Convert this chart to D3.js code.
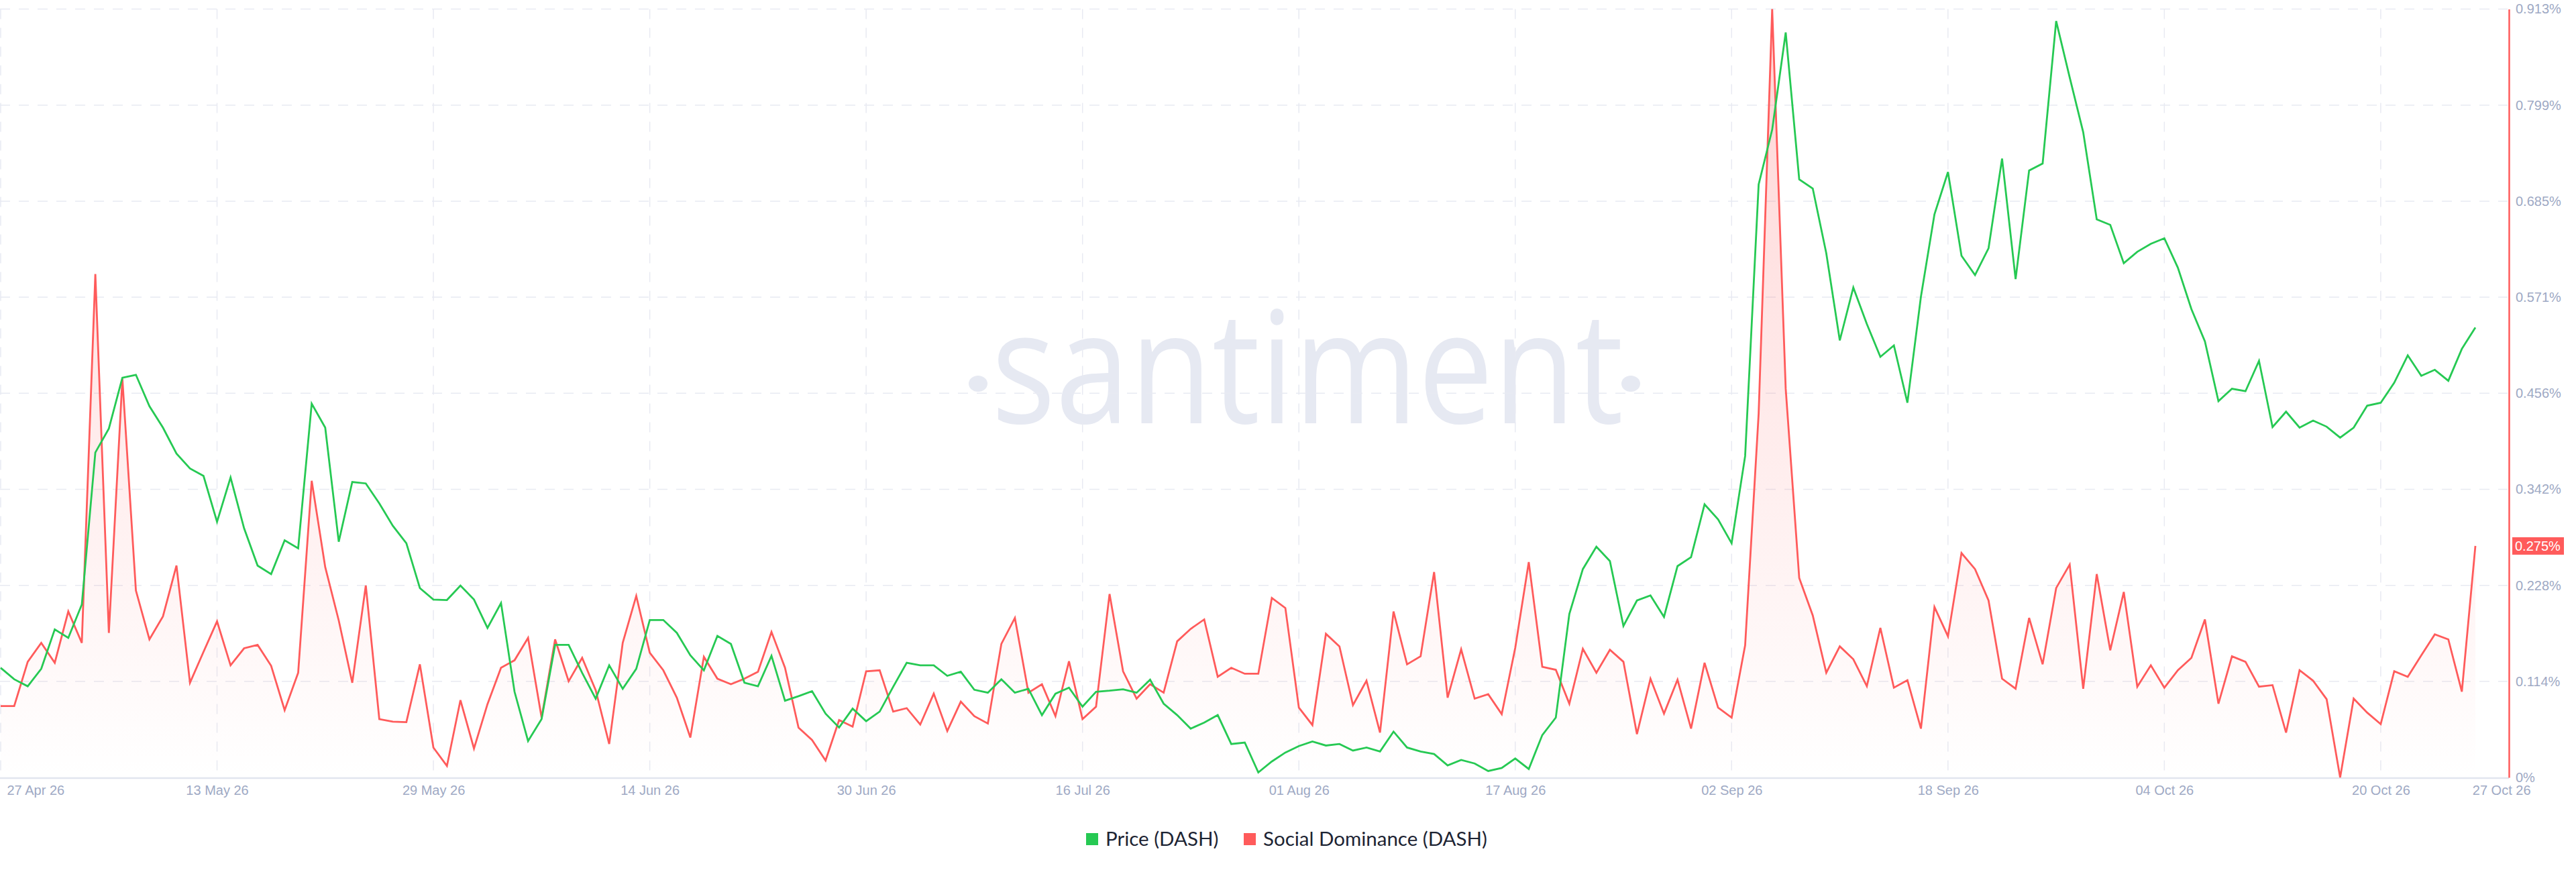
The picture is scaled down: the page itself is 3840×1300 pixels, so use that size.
<!DOCTYPE html>
<html>
<head>
<meta charset="utf-8">
<script src="https://cdn.jsdelivr.net/npm/d3@7"></script>
<style>
  html, body { margin: 0; padding: 0; background: #ffffff; }
  svg { display: block; }
</style>
</head>
<body>
<svg id="chart" width="3840" height="1300"></svg>
<script>
// ---------------- DATA ----------------
const startDate = "2026-04-27";
const endDate = "2026-10-27";

const tickDates = ["2026-04-27","2026-05-13","2026-05-29","2026-06-14","2026-06-30","2026-07-16",
                   "2026-08-01","2026-08-17","2026-09-02","2026-09-18","2026-10-04","2026-10-20","2026-10-27"];
const tickLabels = ["27 Apr 26","13 May 26","29 May 26","14 Jun 26","30 Jun 26","16 Jul 26",
                    "01 Aug 26","17 Aug 26","02 Sep 26","18 Sep 26","04 Oct 26","20 Oct 26","27 Oct 26"];

const yTickLabels = ["0%","0.114%","0.228%","0.342%","0.456%","0.571%","0.685%","0.799%","0.913%"];
const socialMax = 0.9129;

const seriesNames = ["Price (DASH)", "Social Dominance (DASH)"];

// Price (DASH), hidden left scale
const priceDash = [
  31.41, 30.22, 29.49, 31.31, 35.41, 34.53, 38.00, 53.83, 56.32, 61.61,
  61.92, 58.65, 56.42, 53.72, 52.17, 51.39, 46.61, 51.23, 45.94, 42.05,
  41.17, 44.69, 43.86, 58.91, 56.42, 44.54, 50.76, 50.61, 48.53, 46.20,
  44.38, 39.71, 38.52, 38.47, 39.97, 38.52, 35.56, 38.16, 28.92, 23.79,
  26.07, 33.80, 33.80, 30.89, 28.20, 31.67, 29.23, 31.31, 36.39, 36.39,
  35.05, 32.71, 31.15, 34.73, 33.90, 29.86, 29.49, 32.66, 27.99, 28.46,
  28.98, 26.64, 25.19, 27.16, 25.86, 26.85, 29.44, 31.93, 31.67, 31.67,
  30.58, 31.00, 29.13, 28.82, 30.22, 28.82, 29.23, 26.49, 28.72, 29.34,
  27.37, 28.92, 29.03, 29.18, 28.82, 30.17, 27.68, 26.49, 25.08, 25.71,
  26.49, 23.48, 23.63, 20.52, 21.66, 22.59, 23.27, 23.74, 23.32, 23.48,
  22.80, 23.11, 22.70, 24.77, 23.11, 22.70, 22.44, 21.25, 21.82, 21.45,
  20.67, 20.99, 21.97, 20.88, 24.41, 26.23, 37.02, 41.69, 44.02, 42.52,
  35.77, 38.42, 38.94, 36.71, 42.00, 42.93, 48.43, 46.87, 44.38, 53.46,
  81.74, 87.44, 97.56, 82.26, 81.32, 74.58, 65.50, 71.00, 67.21, 63.79,
  64.98, 59.01, 70.06, 78.62, 83.03, 74.32, 72.30, 75.10, 84.43, 71.88,
  83.19, 83.92, 98.75, 92.89, 87.18, 78.11, 77.53, 73.54, 74.73, 75.56,
  76.13, 73.07, 68.77, 65.40, 59.17, 60.47, 60.21, 63.37, 56.47, 58.08,
  56.42, 57.15, 56.52, 55.38, 56.42, 58.70, 59.01, 61.09, 63.94, 61.82,
  62.44, 61.30, 64.62, 66.85
];

// Social Dominance (DASH), in %
const socialDominanceDash = [
  0.0847, 0.0847, 0.1374, 0.1599, 0.1362, 0.1972, 0.1599, 0.5981, 0.1717, 0.4738,
  0.2221, 0.1640, 0.1913, 0.2517, 0.1125, 0.1492, 0.1854, 0.1332, 0.1534, 0.1575,
  0.1327, 0.0799, 0.1244, 0.3524, 0.2499, 0.1865, 0.1125, 0.2280, 0.0693, 0.0663,
  0.0657, 0.1344, 0.0355, 0.0136, 0.0918, 0.0343, 0.0871, 0.1303, 0.1392, 0.1658,
  0.0711, 0.1640, 0.1143, 0.1421, 0.1036, 0.0397, 0.1599, 0.2156, 0.1481, 0.1273,
  0.0948, 0.0474, 0.1433, 0.1173, 0.1107, 0.1173, 0.1255, 0.1729, 0.1303, 0.0592,
  0.0444, 0.0201, 0.0681, 0.0604, 0.1261, 0.1273, 0.0782, 0.0823, 0.0628, 0.0995,
  0.0551, 0.0900, 0.0728, 0.0640, 0.1587, 0.1895, 0.1007, 0.1107, 0.0728, 0.1380,
  0.0693, 0.0841, 0.2179, 0.1261, 0.0936, 0.1107, 0.1007, 0.1617, 0.1765, 0.1877,
  0.1196, 0.1303, 0.1232, 0.1232, 0.2132, 0.2013, 0.0829, 0.0622, 0.1706, 0.1557,
  0.0859, 0.1149, 0.0533, 0.1972, 0.1344, 0.1439, 0.2440, 0.0948, 0.1522, 0.0936,
  0.0989, 0.0752, 0.1540, 0.2558, 0.1315, 0.1279, 0.0876, 0.1528, 0.1244, 0.1516,
  0.1374, 0.0515, 0.1173, 0.0758, 0.1161, 0.0580, 0.1362, 0.0829, 0.0711, 0.1569,
  0.4323, 0.9129, 0.4619, 0.2369, 0.1925, 0.1244, 0.1557, 0.1404, 0.1084, 0.1777,
  0.1066, 0.1155, 0.0580, 0.2025, 0.1676, 0.2665, 0.2475, 0.2102, 0.1173, 0.1054,
  0.1895, 0.1344, 0.2250, 0.2529, 0.1054, 0.2416, 0.1510, 0.2203, 0.1078, 0.1332,
  0.1066, 0.1273, 0.1421, 0.1877, 0.0876, 0.1439, 0.1374, 0.1078, 0.1096, 0.0533,
  0.1273, 0.1149, 0.0930, 0.0000, 0.0936, 0.0770, 0.0634, 0.1261, 0.1196, 0.1451,
  0.1700, 0.1640, 0.1019, 0.2750
];

// ---------------- STYLE ----------------
const GREEN = "#26c953";
const RED = "#ff5b5b";
const GRID = "#e8eaf2";
const AXIS_TEXT = "#9ea9c4";
const seriesColors = [GREEN, RED];

// ---------------- CHART ----------------
const svg = d3.select("#chart");
const parse = d3.utcParse("%Y-%m-%d");
const t0 = parse(startDate), t1 = parse(endDate);
const dates = d3.utcDay.range(t0, d3.utcDay.offset(t1, 1));

const plotLeft = 1, plotRight = 3690, axisX = 3740;
const yBottom = 1159, yTop = 13.5;

const x = d3.scaleUtc().domain([t0, t1]).range([plotLeft, plotRight]);
const ySocial = d3.scaleLinear().domain([0, socialMax]).range([yBottom, yTop]);
const yPrice = d3.scaleLinear().domain([20, 100]).range([yBottom, yTop]);
const yTickValues = yTickLabels.map((_, i) => i * socialMax / (yTickLabels.length - 1));

// watermark
const wm = svg.append("g").attr("fill", "#e6e9f2");
wm.append("text")
  .attr("x", 1478).attr("y", 631)
  .attr("font-family", "'Open Sans', 'Noto Sans', sans-serif")
  .attr("font-size", 232)
  .attr("textLength", 942)
  .attr("lengthAdjust", "spacingAndGlyphs")
  .text("santiment");
wm.append("ellipse").attr("cx", 1458).attr("cy", 572).attr("rx", 14).attr("ry", 12);
wm.append("ellipse").attr("cx", 2431).attr("cy", 572).attr("rx", 14).attr("ry", 12);

// grid
const grid = svg.append("g");
grid.selectAll("line.h").data(yTickValues.slice(1)).join("line")
  .attr("class", "h")
  .attr("x1", 0).attr("x2", axisX - 2)
  .attr("y1", d => ySocial(d)).attr("y2", d => ySocial(d))
  .attr("stroke", GRID).attr("stroke-width", 1.5).attr("stroke-dasharray", "15,13");
grid.selectAll("line.v").data(tickDates.slice(0, -1).map(parse)).join("line")
  .attr("class", "v")
  .attr("x1", d => x(d)).attr("x2", d => x(d))
  .attr("y1", yTop).attr("y2", yBottom)
  .attr("stroke", GRID).attr("stroke-width", 1.5).attr("stroke-dasharray", "15,13");

// bottom axis line
svg.append("line")
  .attr("x1", 0).attr("x2", axisX)
  .attr("y1", yBottom + 1).attr("y2", yBottom + 1)
  .attr("stroke", "#e1e5ef").attr("stroke-width", 2.5);

// gradient
const defs = svg.append("defs");
const grad = defs.append("linearGradient").attr("id", "sdFill")
  .attr("gradientUnits", "userSpaceOnUse")
  .attr("x1", 0).attr("x2", 0).attr("y1", yTop).attr("y2", yBottom);
grad.append("stop").attr("offset", 0).attr("stop-color", RED).attr("stop-opacity", 0.26);
grad.append("stop").attr("offset", 1).attr("stop-color", RED).attr("stop-opacity", 0.0);

const sdData = dates.map((d, i) => ({ d, v: socialDominanceDash[i] }));
const prData = dates.map((d, i) => ({ d, v: priceDash[i] }));

svg.append("path").datum(sdData)
  .attr("fill", "url(#sdFill)")
  .attr("d", d3.area().x(p => x(p.d)).y0(yBottom).y1(p => ySocial(p.v)));

svg.append("path").datum(sdData)
  .attr("fill", "none").attr("stroke", RED).attr("stroke-width", 2.8)
  .attr("stroke-linejoin", "miter")
  .attr("d", d3.line().x(p => x(p.d)).y(p => ySocial(p.v)));

svg.append("path").datum(prData)
  .attr("fill", "none").attr("stroke", GREEN).attr("stroke-width", 2.8)
  .attr("stroke-linejoin", "miter")
  .attr("d", d3.line().x(p => x(p.d)).y(p => yPrice(p.v)));

// x axis
const xAxis = d3.axisBottom(x)
  .tickValues(tickDates.map(parse))
  .tickFormat((d, i) => tickLabels[i])
  .tickSize(0).tickPadding(12);
const gx = svg.append("g").attr("transform", `translate(0,${yBottom})`).call(xAxis);
gx.select(".domain").remove();
gx.selectAll("text")
  .attr("fill", AXIS_TEXT)
  .attr("font-family", "'Liberation Sans', Arial, sans-serif")
  .attr("font-size", 20);
const xTexts = gx.selectAll("text").nodes();
d3.select(xTexts[0]).attr("text-anchor", "start").attr("x", 9);
d3.select(xTexts[xTexts.length - 1]).attr("text-anchor", "end").attr("x", 82);

// right axis
const yAxis = d3.axisRight(ySocial)
  .tickValues(yTickValues)
  .tickFormat((d, i) => yTickLabels[i])
  .tickSize(0).tickSizeOuter(0).tickPadding(10);
const gy = svg.append("g").attr("transform", `translate(${axisX},0)`).call(yAxis);
gy.select(".domain").attr("stroke", RED).attr("stroke-width", 2.5);
gy.selectAll("text")
  .attr("fill", AXIS_TEXT)
  .attr("font-family", "'Liberation Sans', Arial, sans-serif")
  .attr("font-size", 20);

// last value badge
const lastV = socialDominanceDash[socialDominanceDash.length - 1];
const badge = svg.append("g").attr("transform", `translate(${axisX + 5},${ySocial(lastV)})`);
badge.append("rect").attr("x", 0).attr("y", -13).attr("width", 77).attr("height", 26).attr("fill", RED);
badge.append("text").attr("x", 4).attr("y", 0).attr("dy", "0.35em")
  .attr("fill", "#ffffff")
  .attr("font-family", "'Liberation Sans', Arial, sans-serif")
  .attr("font-size", 20)
  .text(d3.format(".3f")(lastV) + "%");

// legend
const legendX = [1619, 1854];
const lg = svg.append("g").attr("transform", "translate(0,1251)");
const items = lg.selectAll("g").data(seriesNames).join("g")
  .attr("transform", (d, i) => `translate(${legendX[i]},0)`);
items.append("rect").attr("x", 0).attr("y", -9).attr("width", 18).attr("height", 18)
  .attr("fill", (d, i) => seriesColors[i]);
items.append("text").attr("x", 29).attr("y", 0).attr("dy", "0.35em")
  .attr("fill", "#1d2433")
  .attr("font-family", "Lato, 'Open Sans', sans-serif")
  .attr("font-size", 29.5)
  .text(d => d);
</script>
</body>
</html>
